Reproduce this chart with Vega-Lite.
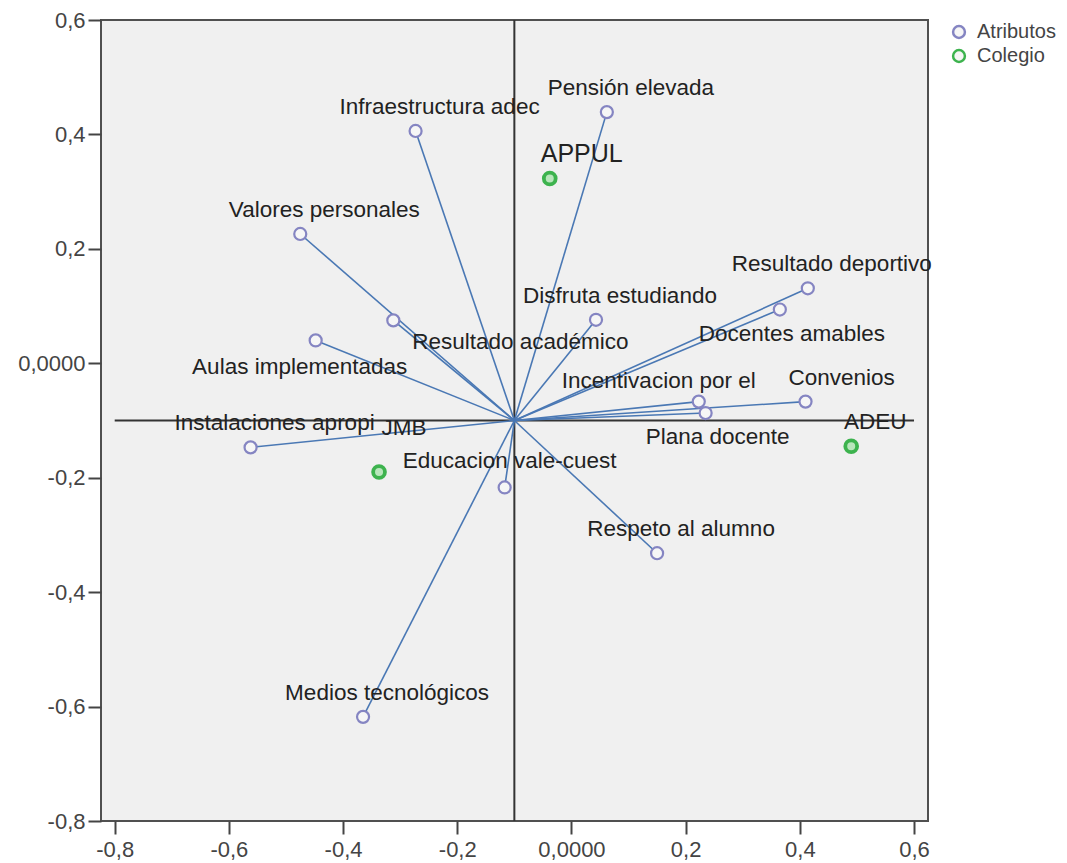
{
  "$schema": "https://vega.github.io/schema/vega-lite/v6.json",
  "width": 827,
  "height": 801,
  "autosize": {"type": "none"},
  "padding": {"left": 101, "top": 20, "right": 139, "bottom": 42},
  "background": "white",
  "config": {
    "view": {"fill": "#f0f0f0", "stroke": "#505050", "strokeWidth": 2},
    "font": "Liberation Sans",
    "text": {"font": "Liberation Sans", "fontSize": 22.5, "color": "#222222", "align": "center", "baseline": "middle"}
  },
  "datasets": {
    "pts": [
      {"name": "Pensión elevada", "grupo": "Atributos", "x": 0.062, "y": 0.439},
      {"name": "Infraestructura adec", "grupo": "Atributos", "x": -0.273, "y": 0.406},
      {"name": "Valores personales", "grupo": "Atributos", "x": -0.475, "y": 0.226},
      {"name": "Resultado académico", "grupo": "Atributos", "x": -0.312, "y": 0.075},
      {"name": "Aulas implementadas", "grupo": "Atributos", "x": -0.448, "y": 0.040},
      {"name": "Instalaciones apropi", "grupo": "Atributos", "x": -0.562, "y": -0.147},
      {"name": "Disfruta estudiando", "grupo": "Atributos", "x": 0.043, "y": 0.076},
      {"name": "Resultado deportivo", "grupo": "Atributos", "x": 0.414, "y": 0.131},
      {"name": "Docentes amables", "grupo": "Atributos", "x": 0.365, "y": 0.094},
      {"name": "Incentivacion por el", "grupo": "Atributos", "x": 0.223, "y": -0.067},
      {"name": "Plana docente", "grupo": "Atributos", "x": 0.235, "y": -0.087},
      {"name": "Convenios", "grupo": "Atributos", "x": 0.410, "y": -0.067},
      {"name": "Medios tecnológicos", "grupo": "Atributos", "x": -0.365, "y": -0.618},
      {"name": "Respeto al alumno", "grupo": "Atributos", "x": 0.150, "y": -0.332},
      {"name": "Educacion vale-cuest", "grupo": "Atributos", "x": -0.117, "y": -0.217},
      {"name": "APPUL", "grupo": "Colegio", "x": -0.038, "y": 0.323},
      {"name": "JMB", "grupo": "Colegio", "x": -0.337, "y": -0.190},
      {"name": "ADEU", "grupo": "Colegio", "x": 0.490, "y": -0.145}
    ],
    "refs": [
      {"x": -0.1, "x2": -0.1, "y": -0.8, "y2": 0.6},
      {"x": -0.8, "x2": 0.6, "y": -0.1, "y2": -0.1}
    ]
  },
  "data": {"name": "pts"},
  "encoding": {
    "x": {"field": "x", "type": "quantitative", "scale": {"domain": [-0.824, 0.6245], "nice": false, "zero": false},
      "axis": {"values": [-0.8, -0.6, -0.4, -0.2, 0, 0.2, 0.4, 0.6], "title": null, "domain": false, "grid": false,
        "labelExpr": "datum.value == 0 ? '0,0000' : (datum.value < 0 ? '-' : '') + replace(format(abs(datum.value), '.1f'), '.', ',')",
        "labelFont": "Liberation Sans", "labelFontSize": 22, "labelColor": "#444444", "tickColor": "#444444", "tickSize": 13, "tickWidth": 2, "labelPadding": 5}},
    "y": {"field": "y", "type": "quantitative", "scale": {"domain": [-0.8, 0.6], "nice": false, "zero": false},
      "axis": {"values": [-0.8, -0.6, -0.4, -0.2, 0, 0.2, 0.4, 0.6], "title": null, "domain": false, "grid": false,
        "labelExpr": "datum.value == 0 ? '0,0000' : (datum.value < 0 ? '-' : '') + replace(format(abs(datum.value), '.1f'), '.', ',')",
        "labelFont": "Liberation Sans", "labelFontSize": 22, "labelColor": "#444444", "tickColor": "#444444", "tickSize": 13, "tickWidth": 2, "labelPadding": 3}}
  },
  "layer": [
    {
      "data": {"name": "refs"},
      "mark": {"type": "rule", "color": "#333333", "strokeWidth": 2},
      "encoding": {
        "x2": {"field": "x2"},
        "y2": {"field": "y2"}
      }
    },
    {
      "transform": [{"filter": "datum.grupo == 'Atributos'"}, {"calculate": "-0.1", "as": "ox"}, {"calculate": "-0.1", "as": "oy"}],
      "mark": {"type": "rule", "color": "#4a78b4", "strokeWidth": 1.6},
      "encoding": {
        "x2": {"field": "ox"},
        "y2": {"field": "oy"}
      }
    },
    {
      "transform": [{"filter": "datum.grupo == 'Atributos'"}],
      "mark": {"type": "point", "shape": "circle", "filled": false, "fill": "#f6f6f6", "fillOpacity": 1, "strokeWidth": 2.2, "size": 145, "opacity": 1},
      "encoding": {
        "stroke": {"field": "grupo", "type": "nominal", "scale": {"domain": ["Atributos", "Colegio"], "range": ["#8585c2", "#3db34e"]},
          "legend": {"title": null, "orient": "none", "legendX": 848, "legendY": 2, "padding": 0, "symbolType": "circle", "symbolSize": 140,
            "symbolStrokeWidth": 2.5, "symbolFillColor": "#f6f6f6", "labelFont": "Liberation Sans", "labelFontSize": 20, "labelColor": "#444444", "labelOffset": 8, "rowPadding": 2}}
      }
    },
    {
      "transform": [{"filter": "datum.grupo == 'Colegio'"}],
      "mark": {"type": "point", "shape": "circle", "filled": false, "fill": "#b9e6bc", "fillOpacity": 1, "strokeWidth": 3.8, "size": 140, "opacity": 1},
      "encoding": {
        "stroke": {"field": "grupo", "type": "nominal"}
      }
    },
    {
      "transform": [{"filter": {"field": "name", "oneOf": ["Pensión elevada", "Infraestructura adec", "Valores personales", "Instalaciones apropi", "Disfruta estudiando", "Respeto al alumno", "Medios tecnológicos", "ADEU", "Resultado deportivo"]}}],
      "mark": {"type": "text", "dx": 24, "dy": -24},
      "encoding": {"text": {"field": "name"}}
    },
    {
      "transform": [{"filter": {"field": "name", "oneOf": ["Convenios"]}}],
      "mark": {"type": "text", "dx": 36, "dy": -24},
      "encoding": {"text": {"field": "name"}}
    },
    {
      "transform": [{"filter": {"field": "name", "oneOf": ["Educacion vale-cuest"]}}],
      "mark": {"type": "text", "dx": 5, "dy": -26},
      "encoding": {"text": {"field": "name"}}
    },
    {
      "transform": [{"filter": {"field": "name", "oneOf": ["Resultado académico"]}}],
      "mark": {"type": "text", "dx": 127, "dy": 22},
      "encoding": {"text": {"field": "name"}}
    },
    {
      "transform": [{"filter": {"field": "name", "oneOf": ["Aulas implementadas"]}}],
      "mark": {"type": "text", "dx": -16, "dy": 27},
      "encoding": {"text": {"field": "name"}}
    },
    {
      "transform": [{"filter": {"field": "name", "oneOf": ["Docentes amables", "Plana docente"]}}],
      "mark": {"type": "text", "dx": 12, "dy": 24},
      "encoding": {"text": {"field": "name"}}
    },
    {
      "transform": [{"filter": {"field": "name", "oneOf": ["Incentivacion por el"]}}],
      "mark": {"type": "text", "dx": -40, "dy": -21},
      "encoding": {"text": {"field": "name"}}
    },
    {
      "transform": [{"filter": {"field": "name", "oneOf": ["JMB"]}}],
      "mark": {"type": "text", "dx": 25, "dy": -44},
      "encoding": {"text": {"field": "name"}}
    },
    {
      "transform": [{"filter": {"field": "name", "oneOf": ["APPUL"]}}],
      "mark": {"type": "text", "dx": 32, "dy": -24, "fontSize": 25},
      "encoding": {"text": {"field": "name"}}
    }
  ]
}
